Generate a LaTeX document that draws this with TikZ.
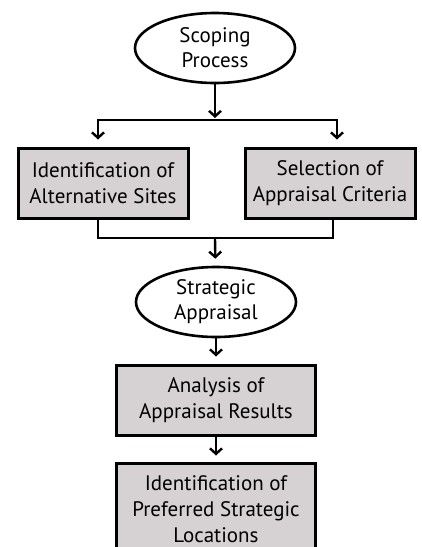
\documentclass[tikz,border=0pt]{standalone}
\usepackage{fontspec}
\setmainfont{PT Sans}
\usepackage{tikz}
\usetikzlibrary{shapes.geometric,arrows.meta}
\definecolor{boxgray}{RGB}{214,209,211}

\begin{document}
\begin{tikzpicture}[x=1pt,y=-1pt,
        boxnode/.style={draw=black, line width=3pt, fill=boxgray, align=center,
            inner sep=0pt, font=\fontsize{21}{26}\selectfont},
        ovalnode/.style={draw=black, line width=2.6pt, fill=white, ellipse, align=center,
            inner sep=0pt, minimum width=160pt, minimum height=70pt,
            font=\fontsize{21}{25}\selectfont},
        arrowline/.style={line width=2.4pt, -{Straight Barb[length=5.5pt,width=12pt]}},
        plainline/.style={line width=2.4pt}]
        \useasboundingbox (0,0) rectangle (422,547);
        \clip (0,0) rectangle (422,547);
        % the nodes
        \node[ovalnode] (scoping) at (215,48) {Scoping\\Process};
        \node[boxnode, minimum width=170pt, minimum height=70pt] (sites) at (103,183) {Identification of\\Alternative Sites};
        \node[boxnode, minimum width=170pt, minimum height=70pt] (criteria) at (330,183) {Selection of\\Appraisal Criteria};
        \node[ovalnode] (appraisal) at (216,302) {Strategic\\Appraisal};
        \node[boxnode, minimum width=199pt, minimum height=70pt] (analysis) at (216,400) {Analysis of\\Appraisal Results};
        \node[boxnode, minimum width=199pt, minimum height=92pt] (locations) at (216,509) {Identification of\\Preferred Strategic\\Locations};
        % the connectors
        \coordinate (split) at (215,120);
        \coordinate (merge) at (215,238);
        \draw[arrowline, shorten >=2pt] (scoping) -- (split);
        \draw[arrowline, shorten >=7pt] (split) -| ([xshift=-5pt]sites.north);
        \draw[arrowline, shorten >=7pt] (split) -| ([xshift=7pt]criteria.north);
        \draw[plainline] ([xshift=-5pt]sites.south) |- (merge);
        \draw[plainline] ([xshift=3pt]criteria.south) |- (merge);
        \draw[arrowline, shorten >=7pt] (merge) -- (appraisal);
        \draw[arrowline, shorten >=7pt] (appraisal) -- (analysis);
        \draw[arrowline, shorten >=6pt] (analysis) -- (locations);
    \end{tikzpicture}
\end{document}
